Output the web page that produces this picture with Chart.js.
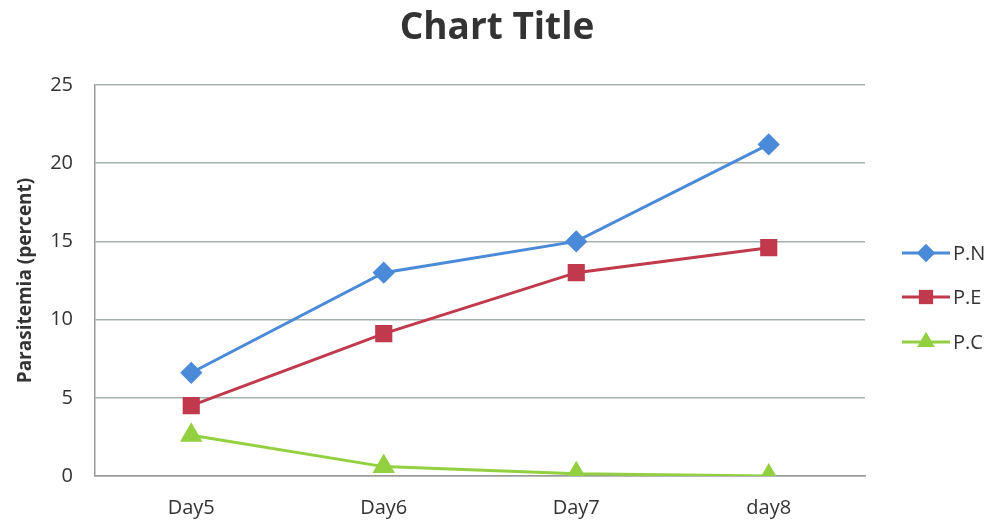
<!DOCTYPE html>
<html>
<head>
<meta charset="utf-8">
<script src="https://cdn.jsdelivr.net/npm/chart.js@4"></script>
<style>
  html, body { margin: 0; padding: 0; background: #fff; }
  #wrap { width: 1000px; height: 528px; position: relative; }
</style>
</head>
<body>
<div id="wrap"><canvas id="canvas"></canvas></div>
<script>
var days = ["Day5", "Day6", "Day7", "day8"];
var pn = [6.6, 13.0, 15.0, 21.2];
var pe = [4.5, 9.1, 13.0, 14.6];
var pc = [2.6, 0.6, 0.15, 0.0];
var yTicks = [0, 5, 10, 15, 20, 25];

var fontFam = "'Open Sans', 'Noto Sans', sans-serif";

// title + legend drawn by hand so the legend can show line+marker like the picture
var extras = {
  id: 'extras',
  afterDraw: function(chart){
    var ctx = chart.ctx;
    ctx.save();
    ctx.fillStyle = '#333';
    ctx.font = "bold 37px " + fontFam;
    ctx.textAlign = 'center';
    ctx.textBaseline = 'middle';
    ctx.fillText("Chart Title", 497, 28);

    var ys = [253, 297, 342];
    chart.data.datasets.forEach(function(ds, i){
      var y = ys[i];
      ctx.strokeStyle = ds.borderColor;
      ctx.lineWidth = 3;
      ctx.beginPath();
      ctx.moveTo(902, y);
      ctx.lineTo(950, y);
      ctx.stroke();
      ctx.fillStyle = ds.borderColor;
      Chart.helpers.drawPoint(ctx, {pointStyle: ds.pointStyle, radius: ds.pointRadius, borderWidth: 0}, 926, y);
      ctx.fill();
      ctx.fillStyle = '#333';
      ctx.font = "20px " + fontFam;
      ctx.textAlign = 'left';
      ctx.fillText(ds.label, 953, y + 1);
    });
    ctx.restore();
  }
};

var ctx = document.getElementById('canvas').getContext('2d');
var chart = new Chart(ctx, {
  type: 'line',
  data: {
    labels: days,
    datasets: [{
      label: "P.N",
      data: pn,
      borderColor: '#4a8ad8',
      backgroundColor: '#4a8ad8',
      borderWidth: 3,
      pointStyle: 'rectRot',
      pointRadius: 9,
      pointHoverRadius: 9
    }, {
      label: "P.E",
      data: pe,
      borderColor: '#c0394d',
      backgroundColor: '#c0394d',
      borderWidth: 3,
      pointStyle: 'rect',
      pointRadius: 10,
      pointHoverRadius: 10
    }, {
      label: "P.C",
      data: pc,
      borderColor: '#92d040',
      backgroundColor: '#92d040',
      borderWidth: 3,
      pointStyle: 'triangle',
      pointRadius: 10,
      pointHoverRadius: 10
    }]
  },
  options: {
    responsive: true,
    maintainAspectRatio: false,
    animation: false,
    layout: { padding: { left: 0, right: 135, top: 85, bottom: 0 } },
    plugins: {
      legend: { display: false },
      title: { display: false },
      tooltip: { enabled: false }
    },
    scales: {
      x: {
        offset: true,
        grid: { display: false, drawTicks: false },
        border: { display: true, color: '#999', width: 1.5 },
        ticks: { color: '#333', font: { size: 20, family: fontFam }, padding: 20 },
        afterFit: function(s){ s.height = 52; }
      },
      y: {
        min: 0,
        max: 25,
        afterBuildTicks: function(s){ s.ticks = yTicks.map(function(v){ return {value: v}; }); },
        grid: { color: '#a3b2ae', lineWidth: 1.5, drawTicks: false },
        border: { display: true, color: '#999', width: 1.5 },
        ticks: { color: '#333', font: { size: 20, family: fontFam }, padding: 22 },
        title: {
          display: true,
          text: "Parasitemia (percent)",
          color: '#333',
          font: { size: 19, weight: 'bold', family: fontFam },
          padding: { top: 14, bottom: 0 }
        },
        afterFit: function(s){ s.width = 95; }
      }
    }
  },
  plugins: [extras]
});
</script>
</body>
</html>
